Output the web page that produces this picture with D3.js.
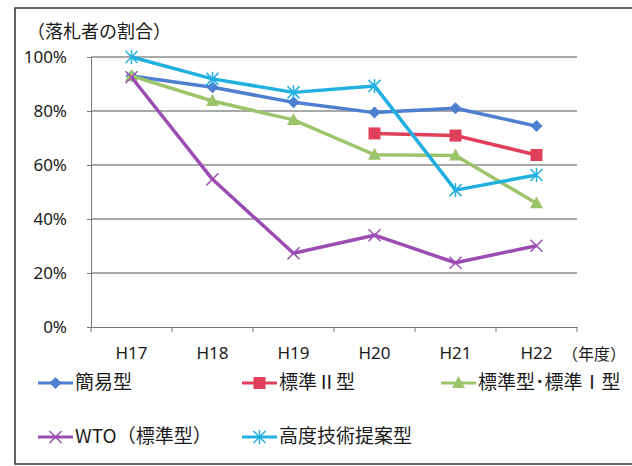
<!DOCTYPE html>
<html><head><meta charset="utf-8">
<script src="https://cdn.jsdelivr.net/npm/d3@7"></script>
<style>body{margin:0;background:#fff}svg{display:block}text{font-family:"Noto Sans CJK JP","Noto Sans",sans-serif;fill:#1a1a1a}</style>
</head><body><svg id="c" width="632" height="466"></svg>
<script>
const categories = ["H17","H18","H19","H20","H21","H22"];
const yTicks = [0,20,40,60,80,100];
const seriesNames = ["簡易型","標準Ⅱ型","標準型･標準Ⅰ型","WTO（標準型）","高度技術提案型"];
const kanni   = [93, 88.8, 83.2, 79.4, 81, 74.4];
const hyojun2 = [null, null, null, 71.7, 70.9, 63.7];
const hyojun1 = [93, 83.7, 76.7, 63.8, 63.5, 45.8];
const wto     = [92.5, 54.7, 27.3, 34, 23.8, 30.1];
const kodo    = [100, 91.9, 86.9, 89.3, 50.7, 56.3];
const seriesValues = [kanni, hyojun2, hyojun1, wto, kodo];
const colors = ["#4F7FD0","#E0405A","#9CC46A","#9B4DB2","#22B0E0"];
const markers = ["diamond","square","triangle","x","star"];

const svg = d3.select("#c");
// frame
svg.append("path").attr("d","M632,8 H15 V464 H632").attr("fill","none").attr("stroke","#333").attr("stroke-width",1.5);

const x = d3.scaleBand().domain(categories).range([91,577]);
const y = d3.scaleLinear().domain([0,100]).range([327,57]);

// gridlines
svg.append("g").selectAll("line").data(yTicks.filter(d=>d>0)).join("line")
  .attr("x1",91).attr("x2",577).attr("y1",d=>y(d)).attr("y2",d=>y(d))
  .attr("stroke","#555").attr("stroke-width",1.2);

// y axis
const ya = svg.append("g").attr("transform","translate(91,0)")
  .call(d3.axisLeft(y).tickValues(yTicks).tickFormat(d=>d+"%").tickSize(4).tickPadding(20));
ya.select(".domain").attr("stroke","#777");
ya.selectAll(".tick line").attr("stroke","#777");
ya.selectAll("text").style("font-family","Noto Sans, sans-serif").attr("font-size",17).attr("fill","#1a1a1a");

// x axis
const xa = svg.append("g").attr("transform","translate(0,327)")
  .call(d3.axisBottom(x).tickSize(0).tickPadding(20));
xa.select(".domain").attr("stroke","#777");
xa.selectAll("text").style("font-family","Noto Sans, sans-serif").attr("font-size",17).attr("fill","#1a1a1a");
// x tick marks at band boundaries
svg.append("g").selectAll("line").data(categories.concat(["end"])).join("line")
  .attr("x1",(d,i)=>91+i*x.step()).attr("x2",(d,i)=>91+i*x.step())
  .attr("y1",327).attr("y2",332).attr("stroke","#777");

svg.append("text").attr("x",27).attr("y",38).attr("font-size",18).text("（落札者の割合）");
svg.append("text").attr("x",562).attr("y",360).attr("font-size",16).text("（年度）");

function marker(g, type, color, cx, cy) {
  if (type==="diamond") g.append("path").attr("d",`M${cx},${cy-6}L${cx+6},${cy}L${cx},${cy+6}L${cx-6},${cy}Z`).attr("fill",color);
  else if (type==="square") g.append("rect").attr("x",cx-6).attr("y",cy-6).attr("width",12).attr("height",12).attr("fill",color);
  else if (type==="triangle") g.append("path").attr("d",`M${cx},${cy-7}L${cx+6.5},${cy+5}L${cx-6.5},${cy+5}Z`).attr("fill",color);
  else if (type==="x") g.append("path").attr("d",`M${cx-6},${cy-6}L${cx+6},${cy+6}M${cx+6},${cy-6}L${cx-6},${cy+6}`).attr("stroke",color).attr("stroke-width",1.5);
  else if (type==="star") g.append("path").attr("d",`M${cx-6},${cy-6}L${cx+6},${cy+6}M${cx+6},${cy-6}L${cx-6},${cy+6}M${cx},${cy-7}V${cy+7}`).attr("stroke",color).attr("stroke-width",1.5);
}

const line = d3.line().defined(d=>d.v!=null).x(d=>x(d.c)+x.bandwidth()/2).y(d=>y(d.v));
seriesValues.forEach((vals,i)=>{
  const pts = categories.map((c,j)=>({c, v: vals[j]}));
  svg.append("path").datum(pts).attr("d",line).attr("fill","none")
    .attr("stroke",colors[i]).attr("stroke-width",3.5).attr("stroke-linejoin","round");
  const g = svg.append("g");
  pts.filter(p=>p.v!=null).forEach(p=>marker(g, markers[i], colors[i], x(p.c)+x.bandwidth()/2, y(p.v)));
});

// legend
const legPos = [[38,383],[242,383],[441,383],[38,437],[242,437]];
seriesNames.forEach((n,i)=>{
  const [lx,ly] = legPos[i];
  svg.append("line").attr("x1",lx).attr("x2",lx+35).attr("y1",ly).attr("y2",ly).attr("stroke",colors[i]).attr("stroke-width",3);
  marker(svg, markers[i], colors[i], lx+17.5, ly);
  svg.append("text").attr("x",lx+37).attr("y",ly+6).attr("font-size",19).text(n);
});
</script></body></html>
